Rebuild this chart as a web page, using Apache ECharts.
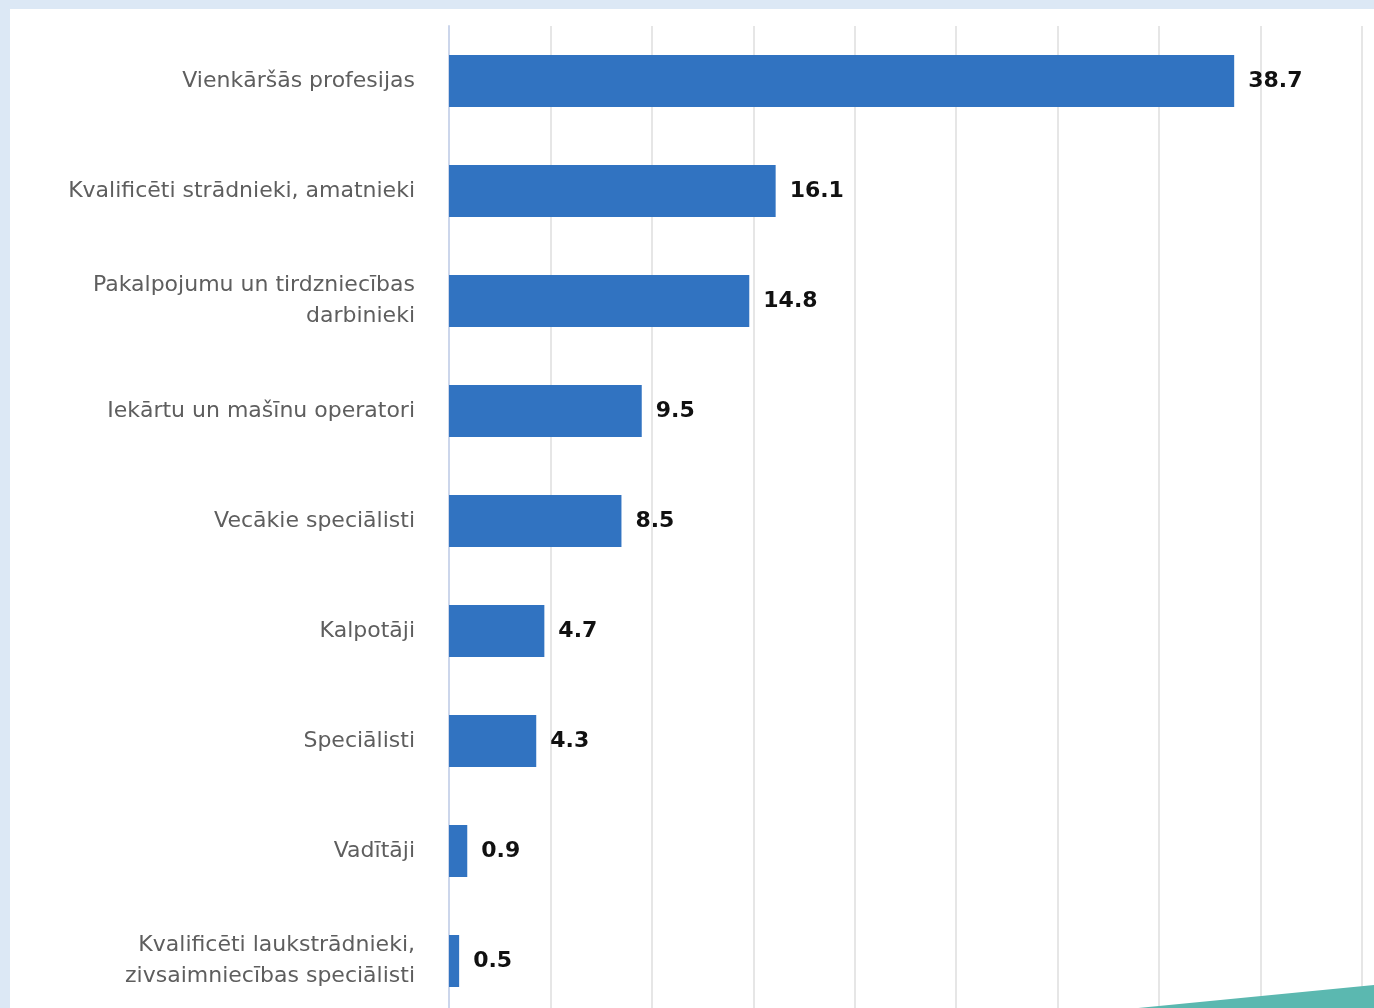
<!DOCTYPE html>
<html>
<head>
<meta charset="utf-8">
<script src="https://cdn.jsdelivr.net/npm/echarts@6/dist/echarts.min.js"></script>
<style>
html,body{margin:0;padding:0;background:#dce8f5;overflow:hidden;width:1374px;height:1008px;}
#c{width:1374px;height:1024px;}
</style>
</head>
<body>
<div id="c"></div>
<script>
const categories = [
  'Vienkāršās profesijas',
  'Kvalificēti strādnieki, amatnieki',
  'Pakalpojumu un tirdzniecības\ndarbinieki',
  'Iekārtu un mašīnu operatori',
  'Vecākie speciālisti',
  'Kalpotāji',
  'Speciālisti',
  'Vadītāji',
  'Kvalificēti laukstrādnieki,\nzivsaimniecības speciālisti'
];
const values = [38.7, 16.1, 14.8, 9.5, 8.5, 4.7, 4.3, 0.9, 0.5];
const axisMin = 0, axisMax = 45, axisStep = 5;

const chart = echarts.init(document.getElementById('c'), null, {renderer:'canvas'});
chart.setOption({
  backgroundColor: '#dce8f5',
  animation: false,
  graphic: [
    {type:'rect', z:-10, shape:{x:10,y:9,width:1400,height:1100}, style:{fill:'#ffffff'}},
    {type:'polygon', z:100, shape:{points:[[1128,1009],[1374,985],[1374,1030],[1128,1030]]}, style:{fill:'#5bb8b0'}}
  ],
  grid: {left:449, right:12, top:26, height:990, containLabel:false},
  xAxis: {
    type:'value', min:axisMin, max:axisMax, interval:axisStep,
    axisLabel:{show:false}, axisLine:{show:false}, axisTick:{show:false},
    splitLine:{show:true, lineStyle:{color:'#e6e6e6', width:2}}
  },
  yAxis: {
    type:'category', data:categories, inverse:true,
    axisLine:{show:true, lineStyle:{color:'#ccd6eb', width:2}},
    axisTick:{show:false},
    axisLabel:{color:'#5e5e5e', fontSize:22, fontFamily:'DejaVu Sans', margin:34, lineHeight:31, align:'right'}
  },
  series: [{
    type:'bar', data:values, barWidth:52,
    itemStyle:{color:'#3173c1'},
    label:{show:true, position:'right', distance:14, color:'#111111', fontSize:22, fontWeight:'bold', fontFamily:'DejaVu Sans',
      formatter: p => p.value.toFixed(1)}
  }]
});
</script>
</body>
</html>
